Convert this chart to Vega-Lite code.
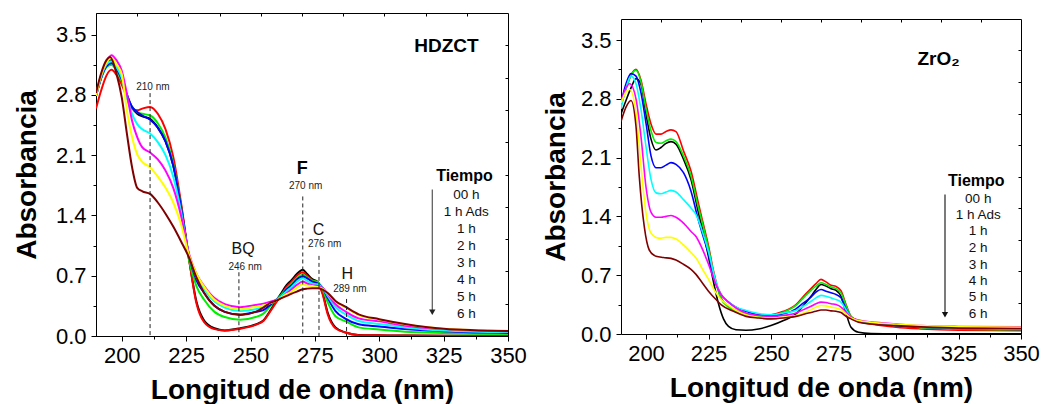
{
"$schema": "https://vega.github.io/schema/vega-lite/v6.json",
"background": "white",
"padding": {"left": 12, "top": 12, "right": 5, "bottom": 5},
"spacing": 15,
"config": {
  "view": {"stroke": "#000", "strokeWidth": 1},
  "axis": {"labelFont": "Liberation Sans", "labelFontSize": 22, "labelColor": "#000", "titleFont": "Liberation Sans", "titleFontSize": 28, "titleFontWeight": "bold", "titleColor": "#000", "tickColor": "#000", "domainColor": "#000", "grid": false, "labelFlush": false, "labelOverlap": false},
  "text": {"font": "Liberation Sans", "color": "#111"}
},
"datasets": {
"hd": [
{"w":190,"s":"00 h","a":2.79},{"w":192,"s":"00 h","a":3.0},{"w":194,"s":"00 h","a":3.15},{"w":196,"s":"00 h","a":3.2},{"w":198,"s":"00 h","a":3.12},{"w":200,"s":"00 h","a":2.98},{"w":202,"s":"00 h","a":2.8},{"w":204,"s":"00 h","a":2.65},{"w":206,"s":"00 h","a":2.58},{"w":208,"s":"00 h","a":2.55},{"w":211,"s":"00 h","a":2.52},{"w":214,"s":"00 h","a":2.42},{"w":217,"s":"00 h","a":2.26},{"w":220,"s":"00 h","a":1.98},{"w":223,"s":"00 h","a":1.52},{"w":226,"s":"00 h","a":0.92},{"w":229,"s":"00 h","a":0.4},{"w":232,"s":"00 h","a":0.18},{"w":236,"s":"00 h","a":0.09},{"w":240,"s":"00 h","a":0.065},{"w":246,"s":"00 h","a":0.09},{"w":252,"s":"00 h","a":0.135},{"w":255,"s":"00 h","a":0.18},{"w":258,"s":"00 h","a":0.31},{"w":260,"s":"00 h","a":0.41},{"w":262,"s":"00 h","a":0.5},{"w":264,"s":"00 h","a":0.59},{"w":266,"s":"00 h","a":0.65},{"w":268,"s":"00 h","a":0.72},{"w":270.3,"s":"00 h","a":0.77},{"w":272,"s":"00 h","a":0.72},{"w":274,"s":"00 h","a":0.66},{"w":276,"s":"00 h","a":0.63},{"w":278,"s":"00 h","a":0.5},{"w":280,"s":"00 h","a":0.27},{"w":283,"s":"00 h","a":0.1},{"w":287,"s":"00 h","a":0.04},{"w":292,"s":"00 h","a":0.012},{"w":300,"s":"00 h","a":0.008},{"w":310,"s":"00 h","a":0.005},{"w":325,"s":"00 h","a":0.004},{"w":350,"s":"00 h","a":0.004},
{"w":190,"s":"1 h Ads","a":2.64},{"w":192,"s":"1 h Ads","a":2.85},{"w":194,"s":"1 h Ads","a":3.02},{"w":196,"s":"1 h Ads","a":3.09},{"w":198,"s":"1 h Ads","a":3.03},{"w":200,"s":"1 h Ads","a":2.92},{"w":202,"s":"1 h Ads","a":2.77},{"w":204,"s":"1 h Ads","a":2.64},{"w":206,"s":"1 h Ads","a":2.62},{"w":208,"s":"1 h Ads","a":2.64},{"w":211,"s":"1 h Ads","a":2.66},{"w":214,"s":"1 h Ads","a":2.58},{"w":217,"s":"1 h Ads","a":2.4},{"w":220,"s":"1 h Ads","a":2.08},{"w":223,"s":"1 h Ads","a":1.55},{"w":226,"s":"1 h Ads","a":0.92},{"w":229,"s":"1 h Ads","a":0.38},{"w":232,"s":"1 h Ads","a":0.16},{"w":236,"s":"1 h Ads","a":0.08},{"w":240,"s":"1 h Ads","a":0.065},{"w":246,"s":"1 h Ads","a":0.085},{"w":252,"s":"1 h Ads","a":0.13},{"w":255,"s":"1 h Ads","a":0.174},{"w":258,"s":"1 h Ads","a":0.3},{"w":260,"s":"1 h Ads","a":0.39},{"w":262,"s":"1 h Ads","a":0.48},{"w":264,"s":"1 h Ads","a":0.57},{"w":266,"s":"1 h Ads","a":0.63},{"w":268,"s":"1 h Ads","a":0.7},{"w":270.3,"s":"1 h Ads","a":0.74},{"w":272,"s":"1 h Ads","a":0.7},{"w":274,"s":"1 h Ads","a":0.65},{"w":276,"s":"1 h Ads","a":0.62},{"w":278,"s":"1 h Ads","a":0.485},{"w":280,"s":"1 h Ads","a":0.25},{"w":283,"s":"1 h Ads","a":0.09},{"w":287,"s":"1 h Ads","a":0.04},{"w":292,"s":"1 h Ads","a":0.01},{"w":300,"s":"1 h Ads","a":0.008},{"w":310,"s":"1 h Ads","a":0.005},{"w":325,"s":"1 h Ads","a":0.004},{"w":350,"s":"1 h Ads","a":0.004},
{"w":190,"s":"1 h","a":2.79},{"w":192,"s":"1 h","a":2.99},{"w":194,"s":"1 h","a":3.12},{"w":196,"s":"1 h","a":3.15},{"w":198,"s":"1 h","a":3.08},{"w":200,"s":"1 h","a":2.96},{"w":202,"s":"1 h","a":2.8},{"w":204,"s":"1 h","a":2.66},{"w":206,"s":"1 h","a":2.6},{"w":208,"s":"1 h","a":2.58},{"w":211,"s":"1 h","a":2.56},{"w":214,"s":"1 h","a":2.47},{"w":217,"s":"1 h","a":2.3},{"w":220,"s":"1 h","a":2.0},{"w":223,"s":"1 h","a":1.5},{"w":226,"s":"1 h","a":0.9},{"w":229,"s":"1 h","a":0.58},{"w":232,"s":"1 h","a":0.42},{"w":236,"s":"1 h","a":0.28},{"w":240,"s":"1 h","a":0.22},{"w":246,"s":"1 h","a":0.19},{"w":252,"s":"1 h","a":0.22},{"w":255,"s":"1 h","a":0.26},{"w":258,"s":"1 h","a":0.36},{"w":260,"s":"1 h","a":0.42},{"w":262,"s":"1 h","a":0.48},{"w":264,"s":"1 h","a":0.55},{"w":266,"s":"1 h","a":0.61},{"w":268,"s":"1 h","a":0.67},{"w":270.3,"s":"1 h","a":0.71},{"w":272,"s":"1 h","a":0.68},{"w":274,"s":"1 h","a":0.64},{"w":276,"s":"1 h","a":0.63},{"w":278,"s":"1 h","a":0.54},{"w":280,"s":"1 h","a":0.39},{"w":283,"s":"1 h","a":0.23},{"w":287,"s":"1 h","a":0.17},{"w":292,"s":"1 h","a":0.1},{"w":300,"s":"1 h","a":0.075},{"w":310,"s":"1 h","a":0.05},{"w":325,"s":"1 h","a":0.035},{"w":350,"s":"1 h","a":0.025},
{"w":190,"s":"2 h","a":2.79},{"w":192,"s":"2 h","a":3.0},{"w":194,"s":"2 h","a":3.13},{"w":196,"s":"2 h","a":3.17},{"w":198,"s":"2 h","a":3.1},{"w":200,"s":"2 h","a":2.98},{"w":202,"s":"2 h","a":2.8},{"w":204,"s":"2 h","a":2.66},{"w":206,"s":"2 h","a":2.6},{"w":208,"s":"2 h","a":2.56},{"w":211,"s":"2 h","a":2.51},{"w":214,"s":"2 h","a":2.42},{"w":217,"s":"2 h","a":2.26},{"w":220,"s":"2 h","a":1.98},{"w":223,"s":"2 h","a":1.5},{"w":226,"s":"2 h","a":0.95},{"w":229,"s":"2 h","a":0.65},{"w":232,"s":"2 h","a":0.5},{"w":236,"s":"2 h","a":0.35},{"w":240,"s":"2 h","a":0.28},{"w":246,"s":"2 h","a":0.25},{"w":252,"s":"2 h","a":0.28},{"w":255,"s":"2 h","a":0.3},{"w":258,"s":"2 h","a":0.37},{"w":260,"s":"2 h","a":0.42},{"w":262,"s":"2 h","a":0.47},{"w":264,"s":"2 h","a":0.54},{"w":266,"s":"2 h","a":0.59},{"w":268,"s":"2 h","a":0.655},{"w":270.3,"s":"2 h","a":0.69},{"w":272,"s":"2 h","a":0.67},{"w":274,"s":"2 h","a":0.63},{"w":276,"s":"2 h","a":0.61},{"w":278,"s":"2 h","a":0.56},{"w":280,"s":"2 h","a":0.44},{"w":283,"s":"2 h","a":0.29},{"w":287,"s":"2 h","a":0.2},{"w":292,"s":"2 h","a":0.136},{"w":300,"s":"2 h","a":0.11},{"w":310,"s":"2 h","a":0.08},{"w":325,"s":"2 h","a":0.055},{"w":350,"s":"2 h","a":0.035},
{"w":190,"s":"3 h","a":2.79},{"w":192,"s":"3 h","a":3.01},{"w":194,"s":"3 h","a":3.15},{"w":196,"s":"3 h","a":3.19},{"w":198,"s":"3 h","a":3.12},{"w":200,"s":"3 h","a":3.0},{"w":202,"s":"3 h","a":2.77},{"w":204,"s":"3 h","a":2.58},{"w":206,"s":"3 h","a":2.46},{"w":208,"s":"3 h","a":2.4},{"w":211,"s":"3 h","a":2.35},{"w":214,"s":"3 h","a":2.25},{"w":217,"s":"3 h","a":2.1},{"w":220,"s":"3 h","a":1.85},{"w":223,"s":"3 h","a":1.45},{"w":226,"s":"3 h","a":0.95},{"w":229,"s":"3 h","a":0.68},{"w":232,"s":"3 h","a":0.54},{"w":236,"s":"3 h","a":0.4},{"w":240,"s":"3 h","a":0.33},{"w":246,"s":"3 h","a":0.29},{"w":252,"s":"3 h","a":0.31},{"w":255,"s":"3 h","a":0.337},{"w":258,"s":"3 h","a":0.39},{"w":260,"s":"3 h","a":0.42},{"w":262,"s":"3 h","a":0.465},{"w":264,"s":"3 h","a":0.52},{"w":266,"s":"3 h","a":0.57},{"w":268,"s":"3 h","a":0.63},{"w":270.3,"s":"3 h","a":0.67},{"w":272,"s":"3 h","a":0.64},{"w":274,"s":"3 h","a":0.61},{"w":276,"s":"3 h","a":0.6},{"w":278,"s":"3 h","a":0.56},{"w":280,"s":"3 h","a":0.465},{"w":283,"s":"3 h","a":0.337},{"w":287,"s":"3 h","a":0.25},{"w":292,"s":"3 h","a":0.174},{"w":300,"s":"3 h","a":0.14},{"w":310,"s":"3 h","a":0.1},{"w":325,"s":"3 h","a":0.065},{"w":350,"s":"3 h","a":0.045},
{"w":190,"s":"4 h","a":2.79},{"w":192,"s":"4 h","a":3.03},{"w":194,"s":"4 h","a":3.18},{"w":196,"s":"4 h","a":3.26},{"w":198,"s":"4 h","a":3.2},{"w":200,"s":"4 h","a":3.08},{"w":202,"s":"4 h","a":2.81},{"w":204,"s":"4 h","a":2.5},{"w":206,"s":"4 h","a":2.31},{"w":208,"s":"4 h","a":2.19},{"w":211,"s":"4 h","a":2.13},{"w":214,"s":"4 h","a":2.05},{"w":217,"s":"4 h","a":1.92},{"w":220,"s":"4 h","a":1.72},{"w":223,"s":"4 h","a":1.4},{"w":226,"s":"4 h","a":0.97},{"w":229,"s":"4 h","a":0.72},{"w":232,"s":"4 h","a":0.58},{"w":236,"s":"4 h","a":0.44},{"w":240,"s":"4 h","a":0.37},{"w":246,"s":"4 h","a":0.335},{"w":252,"s":"4 h","a":0.36},{"w":255,"s":"4 h","a":0.376},{"w":258,"s":"4 h","a":0.4},{"w":260,"s":"4 h","a":0.42},{"w":262,"s":"4 h","a":0.446},{"w":264,"s":"4 h","a":0.496},{"w":266,"s":"4 h","a":0.543},{"w":268,"s":"4 h","a":0.593},{"w":270.3,"s":"4 h","a":0.632},{"w":272,"s":"4 h","a":0.61},{"w":274,"s":"4 h","a":0.59},{"w":276,"s":"4 h","a":0.58},{"w":278,"s":"4 h","a":0.56},{"w":280,"s":"4 h","a":0.485},{"w":283,"s":"4 h","a":0.368},{"w":287,"s":"4 h","a":0.283},{"w":292,"s":"4 h","a":0.205},{"w":300,"s":"4 h","a":0.17},{"w":310,"s":"4 h","a":0.12},{"w":325,"s":"4 h","a":0.08},{"w":350,"s":"4 h","a":0.055},
{"w":190,"s":"5 h","a":2.79},{"w":192,"s":"5 h","a":3.03},{"w":194,"s":"5 h","a":3.17},{"w":196,"s":"5 h","a":3.23},{"w":198,"s":"5 h","a":3.15},{"w":200,"s":"5 h","a":3.04},{"w":202,"s":"5 h","a":2.62},{"w":204,"s":"5 h","a":2.31},{"w":206,"s":"5 h","a":2.11},{"w":208,"s":"5 h","a":2.02},{"w":211,"s":"5 h","a":1.96},{"w":214,"s":"5 h","a":1.85},{"w":217,"s":"5 h","a":1.72},{"w":220,"s":"5 h","a":1.55},{"w":223,"s":"5 h","a":1.3},{"w":226,"s":"5 h","a":0.95},{"w":229,"s":"5 h","a":0.72},{"w":232,"s":"5 h","a":0.57},{"w":236,"s":"5 h","a":0.42},{"w":240,"s":"5 h","a":0.35},{"w":246,"s":"5 h","a":0.31},{"w":252,"s":"5 h","a":0.34},{"w":255,"s":"5 h","a":0.353},{"w":258,"s":"5 h","a":0.384},{"w":260,"s":"5 h","a":0.41},{"w":262,"s":"5 h","a":0.446},{"w":264,"s":"5 h","a":0.485},{"w":266,"s":"5 h","a":0.516},{"w":268,"s":"5 h","a":0.562},{"w":270.3,"s":"5 h","a":0.6},{"w":272,"s":"5 h","a":0.585},{"w":274,"s":"5 h","a":0.58},{"w":276,"s":"5 h","a":0.57},{"w":278,"s":"5 h","a":0.547},{"w":280,"s":"5 h","a":0.492},{"w":283,"s":"5 h","a":0.4},{"w":287,"s":"5 h","a":0.33},{"w":292,"s":"5 h","a":0.244},{"w":300,"s":"5 h","a":0.19},{"w":310,"s":"5 h","a":0.135},{"w":325,"s":"5 h","a":0.085},{"w":350,"s":"5 h","a":0.06},
{"w":190,"s":"6 h","a":2.82},{"w":192,"s":"6 h","a":3.05},{"w":194,"s":"6 h","a":3.2},{"w":195.5,"s":"6 h","a":3.24},{"w":198,"s":"6 h","a":3.04},{"w":200,"s":"6 h","a":2.77},{"w":202,"s":"6 h","a":2.35},{"w":204,"s":"6 h","a":1.96},{"w":206,"s":"6 h","a":1.72},{"w":208,"s":"6 h","a":1.68},{"w":211,"s":"6 h","a":1.65},{"w":214,"s":"6 h","a":1.55},{"w":217,"s":"6 h","a":1.42},{"w":220,"s":"6 h","a":1.27},{"w":223,"s":"6 h","a":1.1},{"w":226,"s":"6 h","a":0.92},{"w":229,"s":"6 h","a":0.68},{"w":232,"s":"6 h","a":0.5},{"w":236,"s":"6 h","a":0.35},{"w":240,"s":"6 h","a":0.28},{"w":246,"s":"6 h","a":0.245},{"w":252,"s":"6 h","a":0.28},{"w":255,"s":"6 h","a":0.33},{"w":258,"s":"6 h","a":0.39},{"w":260,"s":"6 h","a":0.41},{"w":262,"s":"6 h","a":0.44},{"w":264,"s":"6 h","a":0.465},{"w":266,"s":"6 h","a":0.492},{"w":268,"s":"6 h","a":0.516},{"w":270.3,"s":"6 h","a":0.543},{"w":272,"s":"6 h","a":0.55},{"w":274,"s":"6 h","a":0.554},{"w":276,"s":"6 h","a":0.554},{"w":278,"s":"6 h","a":0.539},{"w":280,"s":"6 h","a":0.5},{"w":283,"s":"6 h","a":0.407},{"w":287,"s":"6 h","a":0.337},{"w":292,"s":"6 h","a":0.252},{"w":300,"s":"6 h","a":0.195},{"w":310,"s":"6 h","a":0.14},{"w":325,"s":"6 h","a":0.085},{"w":350,"s":"6 h","a":0.058}
],
"zr": [
{"w":190,"s":"00 h","a":2.62},{"w":192,"s":"00 h","a":2.78},{"w":194,"s":"00 h","a":2.93},{"w":196,"s":"00 h","a":3.04},{"w":198,"s":"00 h","a":2.97},{"w":200,"s":"00 h","a":2.62},{"w":202,"s":"00 h","a":2.32},{"w":204,"s":"00 h","a":2.19},{"w":206,"s":"00 h","a":2.22},{"w":208,"s":"00 h","a":2.27},{"w":210,"s":"00 h","a":2.29},{"w":212,"s":"00 h","a":2.26},{"w":215,"s":"00 h","a":2.08},{"w":218,"s":"00 h","a":1.84},{"w":221,"s":"00 h","a":1.44},{"w":223,"s":"00 h","a":1.2},{"w":225,"s":"00 h","a":0.92},{"w":227,"s":"00 h","a":0.62},{"w":229,"s":"00 h","a":0.36},{"w":231,"s":"00 h","a":0.18},{"w":233,"s":"00 h","a":0.09},{"w":236,"s":"00 h","a":0.05},{"w":240,"s":"00 h","a":0.045},{"w":245,"s":"00 h","a":0.06},{"w":250,"s":"00 h","a":0.1},{"w":255,"s":"00 h","a":0.16},{"w":260,"s":"00 h","a":0.24},{"w":263,"s":"00 h","a":0.34},{"w":266,"s":"00 h","a":0.45},{"w":268,"s":"00 h","a":0.53},{"w":270,"s":"00 h","a":0.59},{"w":272,"s":"00 h","a":0.57},{"w":274,"s":"00 h","a":0.54},{"w":276,"s":"00 h","a":0.52},{"w":278,"s":"00 h","a":0.45},{"w":280,"s":"00 h","a":0.25},{"w":282,"s":"00 h","a":0.08},{"w":285,"s":"00 h","a":0.02},{"w":290,"s":"00 h","a":0.005},{"w":300,"s":"00 h","a":0.002},{"w":350,"s":"00 h","a":0.002},
{"w":190,"s":"1 h Ads","a":2.72},{"w":192,"s":"1 h Ads","a":2.92},{"w":194,"s":"1 h Ads","a":3.08},{"w":196,"s":"1 h Ads","a":3.15},{"w":198,"s":"1 h Ads","a":3.02},{"w":200,"s":"1 h Ads","a":2.74},{"w":202,"s":"1 h Ads","a":2.5},{"w":204,"s":"1 h Ads","a":2.38},{"w":206,"s":"1 h Ads","a":2.38},{"w":208,"s":"1 h Ads","a":2.41},{"w":210,"s":"1 h Ads","a":2.43},{"w":212,"s":"1 h Ads","a":2.41},{"w":215,"s":"1 h Ads","a":2.18},{"w":218,"s":"1 h Ads","a":1.94},{"w":221,"s":"1 h Ads","a":1.55},{"w":223,"s":"1 h Ads","a":1.3},{"w":225,"s":"1 h Ads","a":1.05},{"w":227,"s":"1 h Ads","a":0.75},{"w":230,"s":"1 h Ads","a":0.43},{"w":233,"s":"1 h Ads","a":0.33},{"w":236,"s":"1 h Ads","a":0.28},{"w":240,"s":"1 h Ads","a":0.24},{"w":245,"s":"1 h Ads","a":0.22},{"w":250,"s":"1 h Ads","a":0.23},{"w":255,"s":"1 h Ads","a":0.27},{"w":260,"s":"1 h Ads","a":0.35},{"w":263,"s":"1 h Ads","a":0.45},{"w":266,"s":"1 h Ads","a":0.54},{"w":268,"s":"1 h Ads","a":0.6},{"w":270,"s":"1 h Ads","a":0.65},{"w":272,"s":"1 h Ads","a":0.62},{"w":274,"s":"1 h Ads","a":0.58},{"w":276,"s":"1 h Ads","a":0.567},{"w":278,"s":"1 h Ads","a":0.516},{"w":280,"s":"1 h Ads","a":0.35},{"w":282,"s":"1 h Ads","a":0.21},{"w":285,"s":"1 h Ads","a":0.15},{"w":290,"s":"1 h Ads","a":0.12},{"w":300,"s":"1 h Ads","a":0.08},{"w":310,"s":"1 h Ads","a":0.06},{"w":325,"s":"1 h Ads","a":0.045},{"w":350,"s":"1 h Ads","a":0.04},
{"w":190,"s":"1 h","a":2.72},{"w":192,"s":"1 h","a":2.92},{"w":194,"s":"1 h","a":3.08},{"w":196,"s":"1 h","a":3.14},{"w":198,"s":"1 h","a":3.0},{"w":200,"s":"1 h","a":2.68},{"w":202,"s":"1 h","a":2.42},{"w":204,"s":"1 h","a":2.28},{"w":206,"s":"1 h","a":2.27},{"w":208,"s":"1 h","a":2.3},{"w":210,"s":"1 h","a":2.32},{"w":212,"s":"1 h","a":2.29},{"w":215,"s":"1 h","a":2.12},{"w":218,"s":"1 h","a":1.88},{"w":221,"s":"1 h","a":1.5},{"w":223,"s":"1 h","a":1.27},{"w":225,"s":"1 h","a":1.02},{"w":227,"s":"1 h","a":0.73},{"w":230,"s":"1 h","a":0.42},{"w":233,"s":"1 h","a":0.32},{"w":236,"s":"1 h","a":0.27},{"w":240,"s":"1 h","a":0.23},{"w":245,"s":"1 h","a":0.21},{"w":250,"s":"1 h","a":0.22},{"w":255,"s":"1 h","a":0.26},{"w":260,"s":"1 h","a":0.34},{"w":263,"s":"1 h","a":0.43},{"w":266,"s":"1 h","a":0.52},{"w":268,"s":"1 h","a":0.57},{"w":270,"s":"1 h","a":0.61},{"w":272,"s":"1 h","a":0.59},{"w":274,"s":"1 h","a":0.56},{"w":276,"s":"1 h","a":0.54},{"w":278,"s":"1 h","a":0.49},{"w":280,"s":"1 h","a":0.34},{"w":282,"s":"1 h","a":0.21},{"w":285,"s":"1 h","a":0.16},{"w":290,"s":"1 h","a":0.13},{"w":300,"s":"1 h","a":0.1},{"w":310,"s":"1 h","a":0.075},{"w":325,"s":"1 h","a":0.06},{"w":350,"s":"1 h","a":0.05},
{"w":190,"s":"2 h","a":2.75},{"w":192,"s":"2 h","a":2.98},{"w":194,"s":"2 h","a":3.1},{"w":196,"s":"2 h","a":3.07},{"w":198,"s":"2 h","a":2.87},{"w":200,"s":"2 h","a":2.51},{"w":202,"s":"2 h","a":2.12},{"w":204,"s":"2 h","a":1.98},{"w":206,"s":"2 h","a":1.98},{"w":208,"s":"2 h","a":2.01},{"w":210,"s":"2 h","a":2.04},{"w":212,"s":"2 h","a":2.02},{"w":215,"s":"2 h","a":1.92},{"w":218,"s":"2 h","a":1.7},{"w":221,"s":"2 h","a":1.35},{"w":223,"s":"2 h","a":1.15},{"w":225,"s":"2 h","a":0.95},{"w":227,"s":"2 h","a":0.68},{"w":230,"s":"2 h","a":0.47},{"w":233,"s":"2 h","a":0.38},{"w":236,"s":"2 h","a":0.32},{"w":240,"s":"2 h","a":0.27},{"w":245,"s":"2 h","a":0.23},{"w":250,"s":"2 h","a":0.22},{"w":255,"s":"2 h","a":0.24},{"w":260,"s":"2 h","a":0.3},{"w":263,"s":"2 h","a":0.37},{"w":266,"s":"2 h","a":0.44},{"w":268,"s":"2 h","a":0.5},{"w":270,"s":"2 h","a":0.53},{"w":272,"s":"2 h","a":0.51},{"w":274,"s":"2 h","a":0.49},{"w":276,"s":"2 h","a":0.47},{"w":278,"s":"2 h","a":0.43},{"w":280,"s":"2 h","a":0.3},{"w":282,"s":"2 h","a":0.2},{"w":285,"s":"2 h","a":0.16},{"w":290,"s":"2 h","a":0.13},{"w":300,"s":"2 h","a":0.1},{"w":310,"s":"2 h","a":0.08},{"w":325,"s":"2 h","a":0.065},{"w":350,"s":"2 h","a":0.055},
{"w":190,"s":"3 h","a":2.68},{"w":192,"s":"3 h","a":2.93},{"w":194,"s":"3 h","a":3.07},{"w":196,"s":"3 h","a":2.98},{"w":198,"s":"3 h","a":2.67},{"w":200,"s":"3 h","a":2.23},{"w":202,"s":"3 h","a":1.84},{"w":204,"s":"3 h","a":1.68},{"w":206,"s":"3 h","a":1.67},{"w":208,"s":"3 h","a":1.69},{"w":210,"s":"3 h","a":1.71},{"w":212,"s":"3 h","a":1.69},{"w":215,"s":"3 h","a":1.6},{"w":218,"s":"3 h","a":1.5},{"w":220,"s":"3 h","a":1.42},{"w":223,"s":"3 h","a":1.18},{"w":225,"s":"3 h","a":0.98},{"w":227.5,"s":"3 h","a":0.67},{"w":230,"s":"3 h","a":0.47},{"w":233,"s":"3 h","a":0.38},{"w":236,"s":"3 h","a":0.32},{"w":240,"s":"3 h","a":0.28},{"w":245,"s":"3 h","a":0.245},{"w":250,"s":"3 h","a":0.23},{"w":255,"s":"3 h","a":0.25},{"w":260,"s":"3 h","a":0.28},{"w":263,"s":"3 h","a":0.33},{"w":266,"s":"3 h","a":0.39},{"w":268,"s":"3 h","a":0.43},{"w":270,"s":"3 h","a":0.46},{"w":272,"s":"3 h","a":0.45},{"w":274,"s":"3 h","a":0.43},{"w":276,"s":"3 h","a":0.41},{"w":278,"s":"3 h","a":0.38},{"w":280,"s":"3 h","a":0.29},{"w":282,"s":"3 h","a":0.2},{"w":285,"s":"3 h","a":0.16},{"w":290,"s":"3 h","a":0.135},{"w":300,"s":"3 h","a":0.11},{"w":310,"s":"3 h","a":0.085},{"w":325,"s":"3 h","a":0.07},{"w":350,"s":"3 h","a":0.06},
{"w":190,"s":"4 h","a":2.77},{"w":192,"s":"4 h","a":2.93},{"w":193.5,"s":"4 h","a":2.98},{"w":196,"s":"4 h","a":2.8},{"w":198,"s":"4 h","a":2.35},{"w":200,"s":"4 h","a":1.75},{"w":202,"s":"4 h","a":1.45},{"w":204,"s":"4 h","a":1.39},{"w":206,"s":"4 h","a":1.39},{"w":208,"s":"4 h","a":1.4},{"w":210,"s":"4 h","a":1.41},{"w":212,"s":"4 h","a":1.39},{"w":215,"s":"4 h","a":1.32},{"w":218,"s":"4 h","a":1.22},{"w":220,"s":"4 h","a":1.16},{"w":223,"s":"4 h","a":0.98},{"w":225,"s":"4 h","a":0.83},{"w":228,"s":"4 h","a":0.59},{"w":230,"s":"4 h","a":0.47},{"w":233,"s":"4 h","a":0.38},{"w":236,"s":"4 h","a":0.31},{"w":240,"s":"4 h","a":0.25},{"w":245,"s":"4 h","a":0.22},{"w":250,"s":"4 h","a":0.21},{"w":255,"s":"4 h","a":0.22},{"w":260,"s":"4 h","a":0.25},{"w":263,"s":"4 h","a":0.29},{"w":266,"s":"4 h","a":0.33},{"w":268,"s":"4 h","a":0.36},{"w":270,"s":"4 h","a":0.38},{"w":272,"s":"4 h","a":0.375},{"w":274,"s":"4 h","a":0.36},{"w":276,"s":"4 h","a":0.35},{"w":278,"s":"4 h","a":0.32},{"w":280,"s":"4 h","a":0.26},{"w":282,"s":"4 h","a":0.2},{"w":285,"s":"4 h","a":0.165},{"w":290,"s":"4 h","a":0.145},{"w":300,"s":"4 h","a":0.12},{"w":310,"s":"4 h","a":0.1},{"w":325,"s":"4 h","a":0.09},{"w":350,"s":"4 h","a":0.085},
{"w":190,"s":"5 h","a":2.75},{"w":192,"s":"5 h","a":2.88},{"w":193.5,"s":"5 h","a":2.91},{"w":196,"s":"5 h","a":2.63},{"w":198,"s":"5 h","a":2.0},{"w":200,"s":"5 h","a":1.44},{"w":202,"s":"5 h","a":1.2},{"w":204,"s":"5 h","a":1.15},{"w":206,"s":"5 h","a":1.14},{"w":208,"s":"5 h","a":1.15},{"w":210,"s":"5 h","a":1.15},{"w":212,"s":"5 h","a":1.13},{"w":215,"s":"5 h","a":1.06},{"w":218,"s":"5 h","a":0.97},{"w":220,"s":"5 h","a":0.905},{"w":223,"s":"5 h","a":0.75},{"w":225,"s":"5 h","a":0.65},{"w":228,"s":"5 h","a":0.49},{"w":230,"s":"5 h","a":0.41},{"w":233,"s":"5 h","a":0.34},{"w":236,"s":"5 h","a":0.28},{"w":240,"s":"5 h","a":0.23},{"w":245,"s":"5 h","a":0.2},{"w":250,"s":"5 h","a":0.19},{"w":255,"s":"5 h","a":0.2},{"w":260,"s":"5 h","a":0.22},{"w":263,"s":"5 h","a":0.25},{"w":266,"s":"5 h","a":0.29},{"w":268,"s":"5 h","a":0.32},{"w":270,"s":"5 h","a":0.34},{"w":272,"s":"5 h","a":0.335},{"w":274,"s":"5 h","a":0.32},{"w":276,"s":"5 h","a":0.31},{"w":278,"s":"5 h","a":0.29},{"w":280,"s":"5 h","a":0.24},{"w":282,"s":"5 h","a":0.19},{"w":285,"s":"5 h","a":0.16},{"w":290,"s":"5 h","a":0.14},{"w":300,"s":"5 h","a":0.115},{"w":310,"s":"5 h","a":0.1},{"w":325,"s":"5 h","a":0.085},{"w":350,"s":"5 h","a":0.08},
{"w":190,"s":"6 h","a":2.53},{"w":192,"s":"6 h","a":2.7},{"w":194,"s":"6 h","a":2.78},{"w":196,"s":"6 h","a":2.47},{"w":197.3,"s":"6 h","a":1.88},{"w":199.3,"s":"6 h","a":1.28},{"w":201.3,"s":"6 h","a":1.0},{"w":204,"s":"6 h","a":0.925},{"w":207,"s":"6 h","a":0.91},{"w":210,"s":"6 h","a":0.9},{"w":212,"s":"6 h","a":0.88},{"w":215,"s":"6 h","a":0.83},{"w":218,"s":"6 h","a":0.77},{"w":220,"s":"6 h","a":0.71},{"w":222,"s":"6 h","a":0.63},{"w":225,"s":"6 h","a":0.51},{"w":228,"s":"6 h","a":0.41},{"w":230,"s":"6 h","a":0.35},{"w":235,"s":"6 h","a":0.27},{"w":240,"s":"6 h","a":0.21},{"w":245,"s":"6 h","a":0.19},{"w":250,"s":"6 h","a":0.18},{"w":255,"s":"6 h","a":0.19},{"w":260,"s":"6 h","a":0.21},{"w":265,"s":"6 h","a":0.25},{"w":268,"s":"6 h","a":0.27},{"w":270,"s":"6 h","a":0.285},{"w":272,"s":"6 h","a":0.285},{"w":274,"s":"6 h","a":0.275},{"w":276,"s":"6 h","a":0.27},{"w":278,"s":"6 h","a":0.255},{"w":280,"s":"6 h","a":0.21},{"w":282,"s":"6 h","a":0.18},{"w":285,"s":"6 h","a":0.14},{"w":290,"s":"6 h","a":0.12},{"w":300,"s":"6 h","a":0.1},{"w":310,"s":"6 h","a":0.085},{"w":325,"s":"6 h","a":0.07},{"w":350,"s":"6 h","a":0.065}
]
},
"hconcat": [
{
  "width": 412, "height": 323,
  "resolve": {"axis": {"x": "independent", "y": "independent"}},
  "layer": [
    {
      "data": {"name": "hd"},
      "mark": {"type": "line", "interpolate": "monotone", "strokeWidth": 2, "clip": true},
      "encoding": {
        "x": {"field": "w", "type": "quantitative", "scale": {"domain": [190, 350], "nice": false, "zero": false},
              "axis": {"title": "Longitud de onda (nm)", "values": [200,212.5,225,237.5,250,262.5,275,287.5,300,312.5,325,337.5,350], "labelExpr": "datum.value % 25 == 0 ? datum.label : ''", "tickSize": {"condition": {"test": "datum.value % 25 == 0", "value": 5}, "value": 3}, "labelPadding": 4, "titlePadding": 10}},
        "y": {"field": "a", "type": "quantitative", "scale": {"domain": [0, 3.75], "nice": false},
              "axis": {"title": "Absorbancia", "values": [0,0.35,0.7,1.05,1.4,1.75,2.1,2.45,2.8,3.15,3.5], "format": ".1f", "labelExpr": "round(datum.value*100) % 70 == 0 ? datum.label : ''", "tickSize": {"condition": {"test": "round(datum.value*100) % 70 == 0", "value": 5}, "value": 3}, "labelPadding": 5, "titlePadding": 14}},
        "color": {"field": "s", "type": "nominal", "scale": {"domain": ["00 h","1 h Ads","1 h","2 h","3 h","4 h","5 h","6 h"], "range": ["#000000","#ff0000","#00ee00","#0000ff","#00ffff","#ff00ff","#ffff00","#800000"]}, "legend": null}
      }
    },
    {
      "data": {"values": [{"w":211,"y1":2.82,"y0":0},{"w":245.5,"y1":0.74,"y0":0},{"w":270.3,"y1":1.62,"y0":0},{"w":276.6,"y1":0.93,"y0":0},{"w":287.3,"y1":0.43,"y0":0}]},
      "mark": {"type": "rule", "strokeDash": [4, 3], "strokeWidth": 1, "color": "#222"},
      "encoding": {
        "x": {"field": "w", "type": "quantitative", "scale": {"domain": [190, 350], "nice": false, "zero": false},
              "axis": {"orient": "top", "title": null, "labels": false, "domain": false, "values": [206,222,238,254,270,286,302,318,334], "tickSize": -3}},
        "y": {"field": "y1", "type": "quantitative", "scale": {"domain": [0, 3.75], "nice": false},
              "axis": {"orient": "right", "title": null, "labels": false, "domain": false, "values": [0.375,0.75,1.125,1.5,1.875,2.25,2.625,3.0,3.375], "tickSize": -3}},
        "y2": {"field": "y0"}
      }
    },
    {
      "data": {"values": [{"w":212.1,"a":2.89,"t":"210 nm"},{"w":247.9,"a":0.806,"t":"246 nm"},{"w":271.4,"a":1.744,"t":"270 nm"},{"w":278.8,"a":1.066,"t":"276 nm"},{"w":288.6,"a":0.543,"t":"289 nm"}]},
      "mark": {"type": "text", "fontSize": 10, "baseline": "middle", "align": "center", "color": "#222"},
      "encoding": {
        "x": {"field": "w", "type": "quantitative", "scale": {"domain": [190, 350], "nice": false, "zero": false}, "axis": null},
        "y": {"field": "a", "type": "quantitative", "scale": {"domain": [0, 3.75], "nice": false}, "axis": null},
        "text": {"field": "t"}
      }
    },
    {
      "data": {"values": [{"w":247.1,"a":1.01,"t":"BQ"},{"w":276.4,"a":1.233,"t":"C"},{"w":287.6,"a":0.717,"t":"H"}]},
      "mark": {"type": "text", "fontSize": 16, "baseline": "middle", "align": "center", "color": "#111"},
      "encoding": {
        "x": {"field": "w", "type": "quantitative", "scale": {"domain": [190, 350], "nice": false, "zero": false}, "axis": null},
        "y": {"field": "a", "type": "quantitative", "scale": {"domain": [0, 3.75], "nice": false}, "axis": null},
        "text": {"field": "t"}
      }
    },
    {
      "data": {"values": [{"w":270.1,"a":1.94,"t":"F"}]},
      "mark": {"type": "text", "fontWeight": "bold", "fontSize": 18, "baseline": "middle", "align": "center", "color": "#000"},
      "encoding": {
        "x": {"field": "w", "type": "quantitative", "scale": {"domain": [190, 350], "nice": false, "zero": false}, "axis": null},
        "y": {"field": "a", "type": "quantitative", "scale": {"domain": [0, 3.75], "nice": false}, "axis": null},
        "text": {"field": "t"}
      }
    },
    {
      "data": {"values": [{"w":326.1,"a":3.37,"t":"HDZCT"}]},
      "mark": {"type": "text", "fontWeight": "bold", "fontSize": 19, "baseline": "middle", "align": "center", "color": "#000"},
      "encoding": {
        "x": {"field": "w", "type": "quantitative", "scale": {"domain": [190, 350], "nice": false, "zero": false}, "axis": null},
        "y": {"field": "a", "type": "quantitative", "scale": {"domain": [0, 3.75], "nice": false}, "axis": null},
        "text": {"field": "t"}
      }
    },
    {
      "data": {"values": [{"w":333.1,"a":1.86,"t":"Tiempo"}]},
      "mark": {"type": "text", "fontWeight": "bold", "fontSize": 16, "baseline": "middle", "align": "center", "color": "#000"},
      "encoding": {
        "x": {"field": "w", "type": "quantitative", "scale": {"domain": [190, 350], "nice": false, "zero": false}, "axis": null},
        "y": {"field": "a", "type": "quantitative", "scale": {"domain": [0, 3.75], "nice": false}, "axis": null},
        "text": {"field": "t"}
      }
    },
    {
      "data": {"values": [{"w":333.8,"a":1.636,"t":"00 h"},{"w":333.8,"a":1.442,"t":"1 h Ads"},{"w":333.8,"a":1.24,"t":"1 h"},{"w":333.8,"a":1.043,"t":"2 h"},{"w":333.8,"a":0.845,"t":"3 h"},{"w":333.8,"a":0.651,"t":"4 h"},{"w":333.8,"a":0.453,"t":"5 h"},{"w":333.8,"a":0.256,"t":"6 h"}]},
      "mark": {"type": "text", "fontSize": 13.5, "baseline": "middle", "align": "center", "color": "#111"},
      "encoding": {
        "x": {"field": "w", "type": "quantitative", "scale": {"domain": [190, 350], "nice": false, "zero": false}, "axis": null},
        "y": {"field": "a", "type": "quantitative", "scale": {"domain": [0, 3.75], "nice": false}, "axis": null},
        "text": {"field": "t"}
      }
    },
    {
      "data": {"values": [{"w":320.6,"a":1.70,"a2":0.29}]},
      "mark": {"type": "rule", "strokeWidth": 1.2, "color": "#555"},
      "encoding": {
        "x": {"field": "w", "type": "quantitative", "scale": {"domain": [190, 350], "nice": false, "zero": false}, "axis": null},
        "y": {"field": "a", "type": "quantitative", "scale": {"domain": [0, 3.75], "nice": false}, "axis": null},
        "y2": {"field": "a2"}
      }
    },
    {
      "data": {"values": [{"w":320.6,"a":0.275}]},
      "mark": {"type": "point", "shape": "triangle-down", "filled": true, "size": 40, "color": "#222", "opacity": 1},
      "encoding": {
        "x": {"field": "w", "type": "quantitative", "scale": {"domain": [190, 350], "nice": false, "zero": false}, "axis": null},
        "y": {"field": "a", "type": "quantitative", "scale": {"domain": [0, 3.75], "nice": false}, "axis": null}
      }
    }
  ]
},
{
  "width": 400, "height": 321,
  "view": {"stroke": null},
  "resolve": {"axis": {"x": "independent", "y": "independent"}},
  "layer": [
    {
      "data": {"name": "zr"},
      "mark": {"type": "line", "interpolate": "monotone", "strokeWidth": 1.6, "clip": true},
      "encoding": {
        "x": {"field": "w", "type": "quantitative", "scale": {"domain": [190, 350], "nice": false, "zero": false},
              "axis": {"title": "Longitud de onda (nm)", "values": [200,212.5,225,237.5,250,262.5,275,287.5,300,312.5,325,337.5,350], "labelExpr": "datum.value % 25 == 0 ? datum.label : ''", "tickSize": {"condition": {"test": "datum.value % 25 == 0", "value": 5}, "value": 3}, "labelPadding": 4, "titlePadding": 10}},
        "y": {"field": "a", "type": "quantitative", "scale": {"domain": [0, 3.75], "nice": false, "range": [321, 6]},
              "axis": {"title": "Absorbancia", "values": [0,0.35,0.7,1.05,1.4,1.75,2.1,2.45,2.8,3.15,3.5], "format": ".1f", "labelExpr": "round(datum.value*100) % 70 == 0 ? datum.label : ''", "tickSize": {"condition": {"test": "round(datum.value*100) % 70 == 0", "value": 5}, "value": 3}, "labelPadding": 5, "titlePadding": 10}},
        "color": {"field": "s", "type": "nominal", "scale": {"domain": ["00 h","1 h Ads","1 h","2 h","3 h","4 h","5 h","6 h"], "range": ["#000000","#ff0000","#00ee00","#0000ff","#00ffff","#ff00ff","#ffff00","#800000"]}, "legend": null}
      }
    },
    {
      "data": {"values": [{"w":319.6,"a":1.66,"a2":0.24}]},
      "mark": {"type": "rule", "strokeWidth": 1.2, "color": "#222"},
      "encoding": {
        "x": {"field": "w", "type": "quantitative", "scale": {"domain": [190, 350], "nice": false, "zero": false},
              "axis": {"orient": "top", "offset": -6, "title": null, "labels": false, "domain": true, "values": [206,222,238,254,270,286,302,318,334], "tickSize": -3}},
        "y": {"field": "a", "type": "quantitative", "scale": {"domain": [0, 3.75], "nice": false, "range": [321, 6]},
              "axis": {"orient": "right", "title": null, "labels": false, "domain": true, "values": [0.375,0.75,1.125,1.5,1.875,2.25,2.625,3.0,3.375], "tickSize": -3}},
        "y2": {"field": "a2"}
      }
    },
    {
      "data": {"values": [{"w":319.6,"a":0.23}]},
      "mark": {"type": "point", "shape": "triangle-down", "filled": true, "size": 40, "color": "#111", "opacity": 1},
      "encoding": {
        "x": {"field": "w", "type": "quantitative", "scale": {"domain": [190, 350], "nice": false, "zero": false}, "axis": null},
        "y": {"field": "a", "type": "quantitative", "scale": {"domain": [0, 3.75], "nice": false, "range": [321, 6]}, "axis": null}
      }
    },
    {
      "data": {"values": [{"w":317,"a":3.27,"t":"ZrO₂"}]},
      "mark": {"type": "text", "fontWeight": "bold", "fontSize": 19, "baseline": "middle", "align": "center", "color": "#000"},
      "encoding": {
        "x": {"field": "w", "type": "quantitative", "scale": {"domain": [190, 350], "nice": false, "zero": false}, "axis": null},
        "y": {"field": "a", "type": "quantitative", "scale": {"domain": [0, 3.75], "nice": false, "range": [321, 6]}, "axis": null},
        "text": {"field": "t"}
      }
    },
    {
      "data": {"values": [{"w":332.1,"a":1.826,"t":"Tiempo"}]},
      "mark": {"type": "text", "fontWeight": "bold", "fontSize": 16, "baseline": "middle", "align": "center", "color": "#000"},
      "encoding": {
        "x": {"field": "w", "type": "quantitative", "scale": {"domain": [190, 350], "nice": false, "zero": false}, "axis": null},
        "y": {"field": "a", "type": "quantitative", "scale": {"domain": [0, 3.75], "nice": false, "range": [321, 6]}, "axis": null},
        "text": {"field": "t"}
      }
    },
    {
      "data": {"values": [{"w":332.9,"a":1.612,"t":"00 h"},{"w":332.9,"a":1.421,"t":"1 h Ads"},{"w":332.9,"a":1.223,"t":"1 h"},{"w":332.9,"a":1.024,"t":"2 h"},{"w":332.9,"a":0.826,"t":"3 h"},{"w":332.9,"a":0.636,"t":"4 h"},{"w":332.9,"a":0.437,"t":"5 h"},{"w":332.9,"a":0.238,"t":"6 h"}]},
      "mark": {"type": "text", "fontSize": 13.5, "baseline": "middle", "align": "center", "color": "#111"},
      "encoding": {
        "x": {"field": "w", "type": "quantitative", "scale": {"domain": [190, 350], "nice": false, "zero": false}, "axis": null},
        "y": {"field": "a", "type": "quantitative", "scale": {"domain": [0, 3.75], "nice": false, "range": [321, 6]}, "axis": null},
        "text": {"field": "t"}
      }
    }
  ]
}
]
}
